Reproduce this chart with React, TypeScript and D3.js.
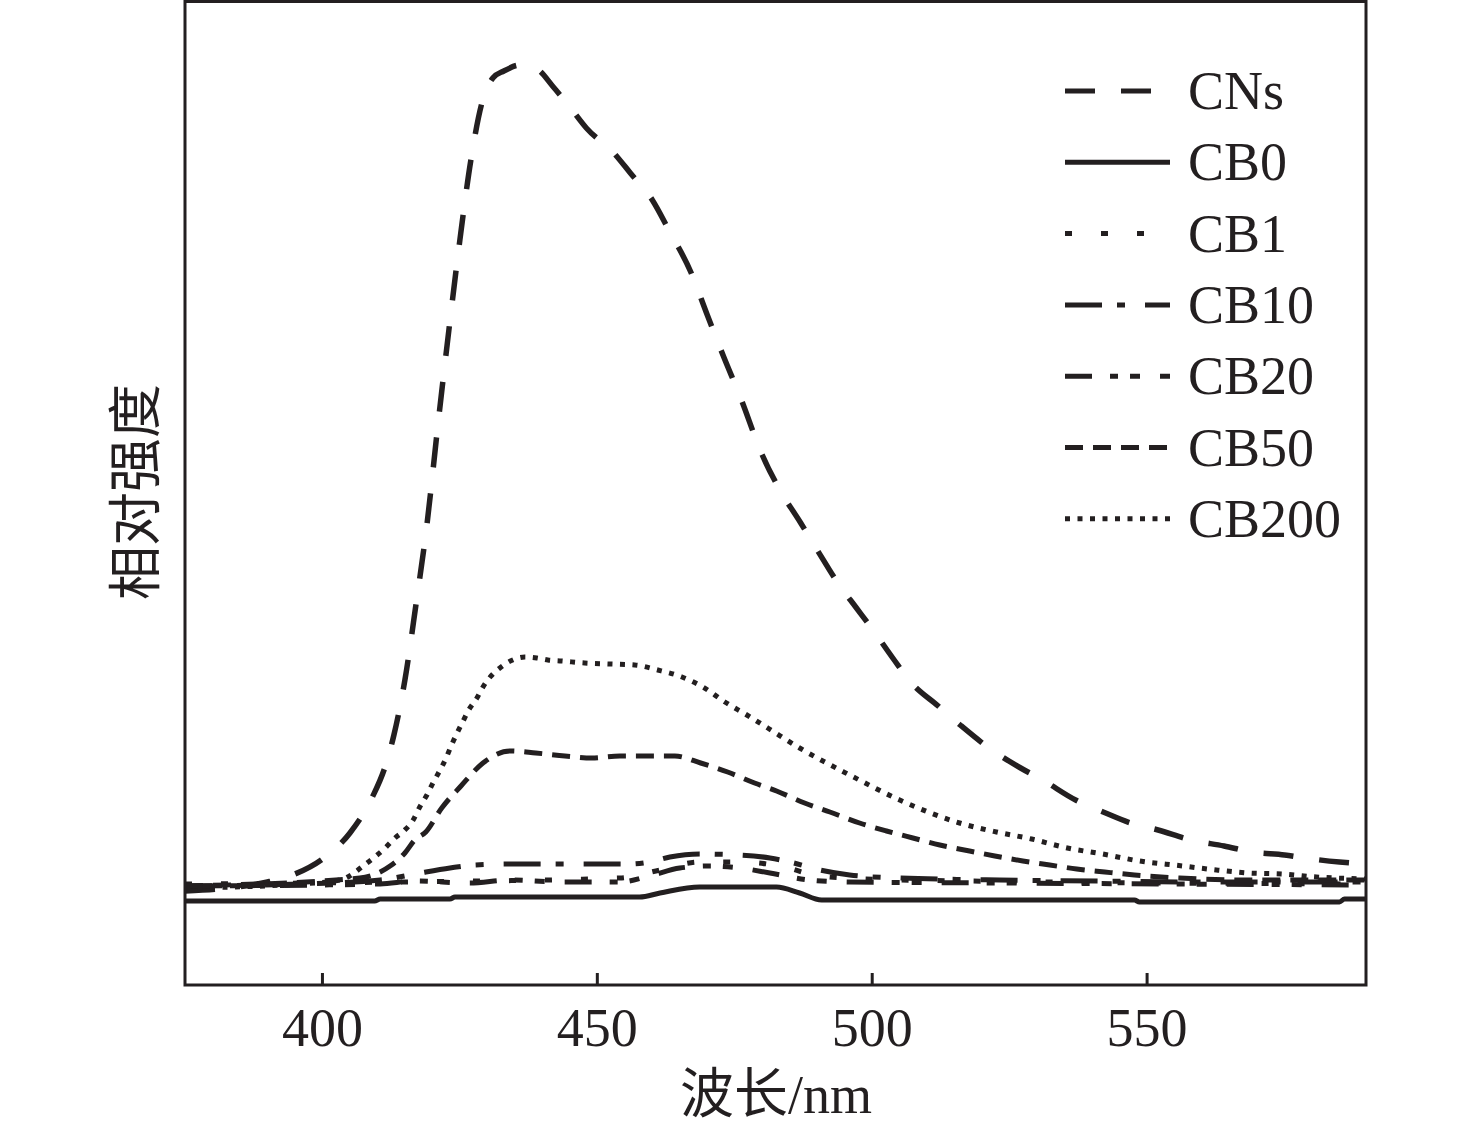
import React from "react";
import * as d3 from "d3";

// ---- data (wavelength nm, relative intensity a.u.) ----
const xTicks = [400, 450, 500, 550];
const seriesNames = ["CNs", "CB0", "CB1", "CB10", "CB20", "CB50", "CB200"];

const CNs: [number, number][] = [
  [375, 94], [383, 97], [390, 103], [395, 111], [400, 126], [405, 152], [409, 187], [411.5, 220],
  [413, 250], [415, 305], [417, 380], [419, 460], [421, 560], [423, 655], [425, 745], [427, 825],
  [429, 882], [431, 907], [433, 914], [436, 920], [439, 916], [442, 898], [445, 878], [448, 857],
  [453, 832], [456, 812], [460, 785], [463, 755], [467, 713], [470, 670], [473, 628], [476, 588],
  [480, 530], [483, 497], [487, 462], [490, 435], [494, 400], [497, 378], [500, 356], [504, 325],
  [507, 303], [512, 279], [516, 260], [521, 238], [527, 217], [531, 205], [537, 185], [542, 173],
  [547, 162], [552, 155], [558, 145], [564, 139], [569, 133], [575, 130], [580, 126], [585, 123], [590, 121],
];
const CB0: [number, number][] = [
  [375, 84], [409.5, 84], [410.5, 86], [423.2, 86], [424.1, 88], [457.7, 88], [461.4, 92], [468.6, 98],
  [482.6, 98], [486.8, 92], [490.8, 85], [547.7, 85], [548.6, 83], [585, 83], [585.9, 86], [590, 86],
];
const CB1: [number, number][] = [
  [375, 101], [414.1, 103], [454.1, 107], [461.4, 115], [468.6, 123], [475.9, 123], [483.2, 119],
  [490.5, 109], [505, 105], [590, 101],
];
const CB10: [number, number][] = [
  [375, 99], [395.9, 101], [410.5, 105], [416.8, 111], [423.2, 117], [427.7, 120], [434.1, 121],
  [441.4, 121], [450.5, 121], [455.9, 121], [459.5, 123], [463.2, 128], [468.6, 131], [475.9, 130],
  [481.4, 127], [485, 123], [490.5, 115], [495.9, 110], [505, 107], [523.2, 105], [541.4, 104],
  [559.5, 103], [590, 103],
];
const CB20: [number, number][] = [
  [375, 99], [410.5, 101], [416.8, 104], [426.8, 102], [434.1, 105], [443.2, 103], [454.1, 103],
  [459.5, 109], [465, 117], [470.5, 119], [475.9, 117], [481.4, 112], [488.6, 105], [495.9, 103],
  [523.2, 102], [590, 100],
];
const CB50: [number, number][] = [
  [375, 99], [406.8, 107], [412.3, 119], [415, 132], [416.8, 145], [418.8, 153], [421.7, 177],
  [425.2, 199], [429.2, 222], [434.1, 234], [438.8, 232], [444.1, 229], [449, 227], [454.1, 229],
  [459.2, 229], [464.1, 229], [468.8, 222], [473.7, 213], [478.6, 202], [482.6, 194], [487.7, 182],
  [492.3, 173], [497.7, 162], [502.6, 154], [507.4, 147], [512.3, 140], [517.7, 134], [522.3, 129],
  [527.4, 124], [532.3, 120], [537.2, 116], [542.3, 113], [547.7, 110], [555.9, 107], [568.6, 105], [590, 105],
];
const CB200: [number, number][] = [
  [375, 97], [395.9, 101], [403.2, 105], [408.1, 122], [411.4, 137], [413.2, 147], [415, 155],
  [416.5, 165], [417.7, 178], [419, 190], [420.1, 202], [421.2, 213], [422.5, 227], [423.4, 239],
  [424.5, 252], [425.5, 263], [426.6, 275], [428.1, 287], [429.2, 298], [430.5, 308], [432.5, 318],
  [434.6, 325], [436.8, 328], [439, 327], [441, 325], [443.5, 324], [447.7, 322], [452.3, 321],
  [456.8, 320], [461, 315], [465.4, 308], [469.2, 298], [473.2, 283], [477.2, 270], [481, 257],
  [486.8, 237], [495.9, 210], [505, 185], [515.9, 162], [522.6, 153], [529, 146], [535.5, 137],
  [541.9, 131], [548.6, 124], [556.5, 119], [562.6, 115], [568.6, 112], [574.6, 111], [580.8, 108], [590, 106],
];

const seriesData = [CNs, CB0, CB1, CB10, CB20, CB50, CB200];
const dashes = ["30 26", "", "7 29", "37 15 8 20", "27 18 8 12 10 20", "18 10", "5 7.5"];

export default function App() {
  const W = 1476, H = 1130;
  const L = 185, R = 1366, T = 1, B = 985;
  const x = d3.scaleLinear().domain([375, 590]).range([L, R + 1]);
  const y = d3.scaleLinear().domain([0, 984]).range([B, T]);
  const line = d3.line<[number, number]>().x(d => x(d[0])).y(d => y(d[1])).curve(d3.curveMonotoneX);
  const serif = "'Liberation Serif', 'Times New Roman', 'Noto Sans CJK SC', serif";

  return (
    <div style={{ position: "absolute", left: 0, top: 0 }}>
      <svg width={W} height={H} viewBox={`0 0 ${W} ${H}`} style={{ display: "block", background: "#fff" }}>
        <defs>
          <clipPath id="plot">
            <rect x={L} y={T} width={R - L} height={B - T} />
          </clipPath>
        </defs>
        <g clipPath="url(#plot)">
          {seriesData.map((s, i) => (
            <path key={seriesNames[i]} d={line(s) || ""} fill="none" stroke="#231f20"
              strokeWidth={i === 0 ? 5.5 : 5} strokeDasharray={dashes[i] || undefined} strokeLinecap="butt" strokeLinejoin="round" />
          ))}
        </g>
        {/* frame */}
        <rect x={L} y={T + 0.5} width={R - L} height={B - T - 0.5} fill="none" stroke="#231f20" strokeWidth={3} />
        {xTicks.map(t => (
          <g key={t}>
            <line x1={x(t)} x2={x(t)} y1={B} y2={B - 12} stroke="#231f20" strokeWidth={3} />
            <text x={x(t)} y={1046} textAnchor="middle" fontFamily={serif} fontSize={54} fill="#231f20">{t}</text>
          </g>
        ))}
        <text x={776} y={1113} textAnchor="middle" fontFamily={serif} fontSize={54} fill="#231f20">波长/nm</text>
        <text transform="translate(155,492) rotate(-90)" textAnchor="middle" fontFamily={serif} fontSize={54} fill="#231f20">相对强度</text>
        {/* legend */}
        {seriesNames.map((n, i) => {
          const cy = 91 + i * 71.3;
          return (
            <g key={n}>
              <line x1={1065} x2={1170} y1={cy} y2={cy} stroke="#231f20" strokeWidth={5}
                strokeDasharray={dashes[i] || undefined} />
              <text x={1188} y={cy + 18} fontFamily={serif} fontSize={54} fill="#231f20">{n}</text>
            </g>
          );
        })}
      </svg>
    </div>
  );
}
